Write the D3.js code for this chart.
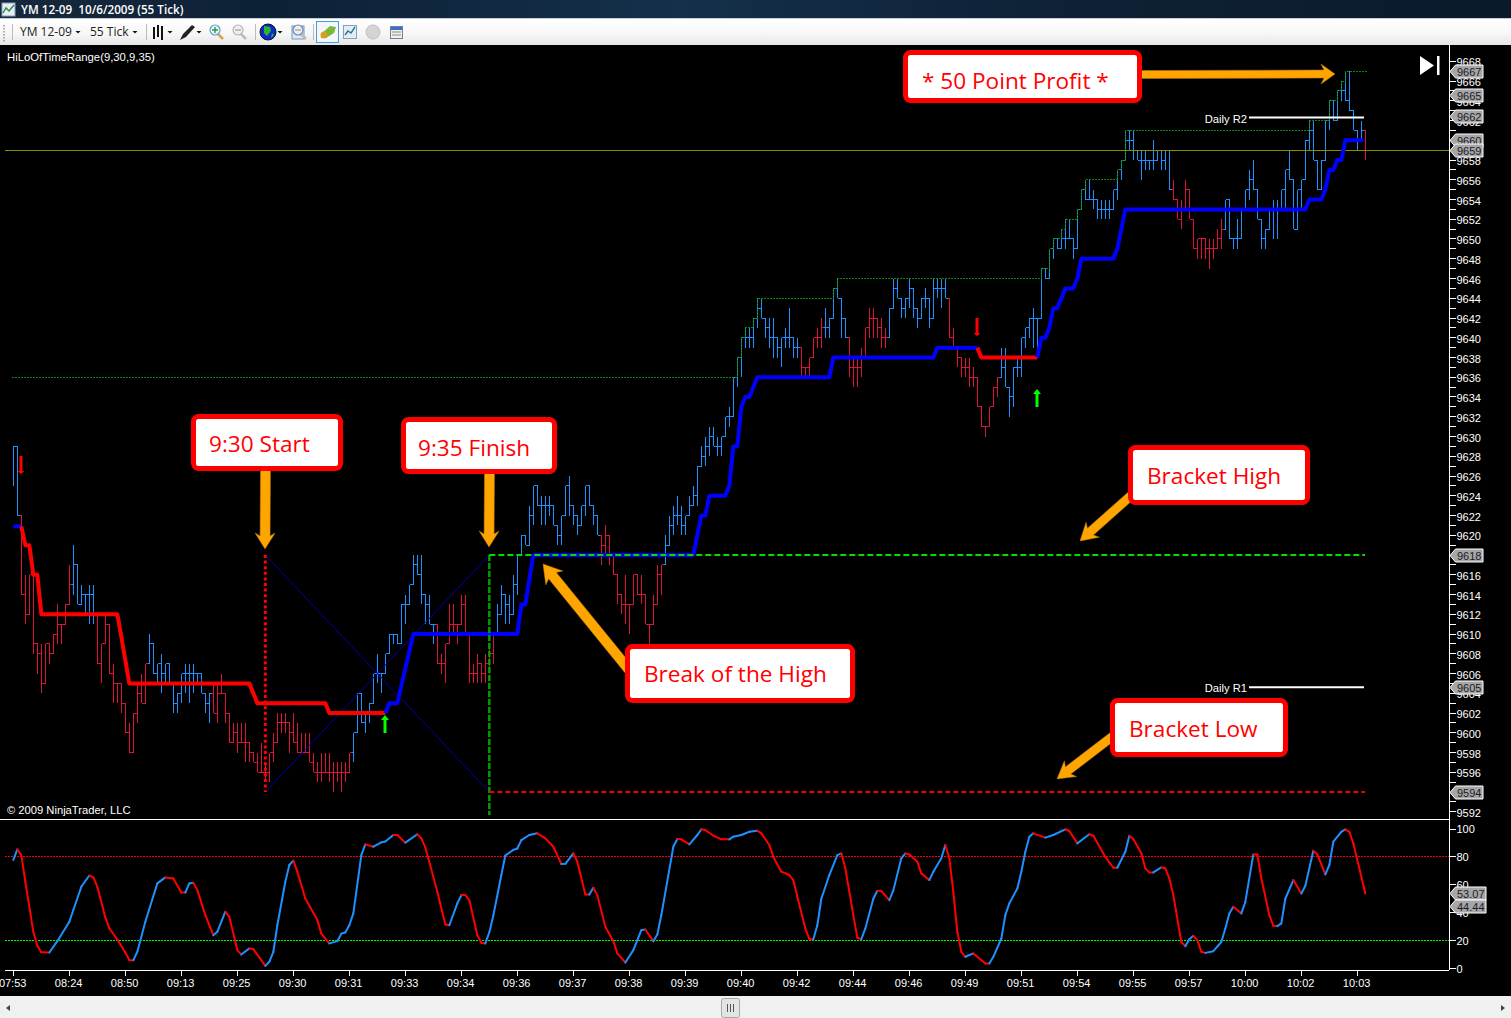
<!DOCTYPE html>
<html><head><meta charset="utf-8">
<script src="https://cdn.jsdelivr.net/npm/d3@7"></script>
<style>html,body{margin:0;padding:0;background:#000;overflow:hidden}svg{display:block}</style>
</head><body><div id="c"></div>
<script>
// ---------- DATA ----------
const barHigh=[
9629,9629,9622,9616,9616,9616,9609,9609,9609,9609,
9610,9613,9611,9613,9617,9619,9617,9615,9614,9615,
9615,9612,9609,9612,9611,9607,9605,9605,9603,9601,
9602,9605,9606,9607,9610,9609,9607,9608,9607,9607,
9605,9604,9606,9607,9607,9607,9606,9606,9604,9604,
9605,9605,9606,9604,9602,9601,9601,9601,9601,9599,
9598,9598,9599,9597,9598,9600,9602,9602,9602,9601,
9602,9601,9600,9600,9600,9598,9597,9598,9598,9598,
9597,9597,9597,9597,9598,9600,9604,9604,9602,9603,
9606,9608,9606,9608,9610,9610,9610,9613,9614,9615,
9618,9618,9618,9614,9614,9611,9611,9608,9609,9613,
9613,9611,9614,9614,9610,9607,9608,9607,9608,9609,
9610,9613,9615,9614,9614,9616,9618,9620,9620,9623,
9625,9625,9624,9624,9624,9623,9621,9622,9625,9626,
9623,9622,9623,9625,9625,9623,9622,9620,9621,9620,
9618,9616,9614,9616,9613,9616,9616,9616,9614,9611,
9614,9617,9617,9620,9622,9623,9624,9623,9622,9624,
9625,9627,9629,9630,9631,9631,9630,9630,9632,9633,
9636,9638,9640,9641,9641,9642,9644,9644,9642,9642,
9642,9640,9640,9641,9643,9640,9640,9639,9637,9638,
9640,9641,9642,9643,9642,9645,9646,9644,9642,9640,
9638,9638,9639,9641,9643,9643,9642,9642,9641,9643,
9646,9646,9644,9644,9646,9645,9643,9644,9645,9644,
9646,9646,9646,9646,9644,9641,9639,9638,9638,9638,
9637,9636,9633,9631,9633,9635,9636,9639,9639,9635,
9637,9638,9640,9641,9642,9643,9642,9647,9647,9649,
9650,9650,9651,9652,9652,9650,9653,9655,9656,9656,
9655,9654,9654,9654,9654,9655,9657,9658,9661,9661,
9661,9659,9659,9659,9658,9660,9659,9659,9659,9659,
9656,9654,9654,9656,9655,9652,9650,9650,9650,9650,
9650,9651,9652,9654,9654,9650,9652,9653,9655,9657,
9658,9655,9652,9651,9653,9654,9654,9655,9657,9659,
9656,9655,9656,9660,9662,9662,9658,9658,9662,9664,
9664,9665,9666,9667,9667,9663,9661,9662,9661];
const barLow=[
9625,9622,9614,9611,9612,9608,9606,9604,9605,9607,
9608,9609,9609,9611,9613,9614,9613,9613,9612,9611,
9611,9607,9605,9609,9606,9603,9603,9602,9600,9598,
9598,9601,9603,9603,9607,9606,9605,9604,9605,9605,
9602,9602,9603,9604,9603,9604,9605,9604,9602,9601,
9602,9601,9604,9601,9599,9599,9598,9599,9597,9597,
9597,9596,9596,9595,9595,9597,9599,9600,9600,9598,
9599,9598,9598,9598,9597,9596,9595,9595,9596,9595,
9594,9595,9594,9595,9596,9597,9600,9601,9600,9601,
9603,9605,9604,9606,9608,9609,9609,9609,9611,9613,
9615,9616,9613,9611,9611,9609,9607,9606,9605,9609,
9610,9609,9611,9610,9605,9605,9605,9605,9605,9606,
9607,9610,9612,9611,9611,9612,9614,9618,9619,9619,
9621,9623,9621,9621,9622,9621,9619,9619,9622,9622,
9621,9620,9621,9622,9623,9621,9620,9617,9618,9617,
9616,9613,9612,9611,9610,9613,9614,9613,9611,9609,
9611,9613,9614,9617,9619,9620,9621,9620,9620,9622,
9623,9623,9627,9627,9628,9629,9628,9628,9630,9631,
9632,9635,9636,9639,9639,9639,9641,9642,9640,9639,
9638,9638,9637,9639,9639,9638,9638,9636,9636,9636,
9638,9639,9639,9640,9640,9642,9644,9640,9640,9636,
9635,9635,9636,9638,9640,9640,9640,9639,9639,9640,
9643,9644,9642,9642,9643,9642,9641,9642,9643,9641,
9642,9644,9643,9644,9640,9639,9637,9636,9636,9635,
9635,9633,9631,9630,9631,9633,9634,9636,9635,9632,
9633,9636,9636,9639,9640,9639,9638,9642,9646,9646,
9648,9649,9649,9649,9650,9648,9649,9653,9654,9654,
9653,9652,9652,9652,9652,9653,9654,9656,9658,9659,
9658,9658,9656,9657,9657,9657,9658,9657,9657,9655,
9654,9652,9651,9653,9652,9649,9648,9648,9648,9647,
9648,9649,9649,9651,9650,9649,9649,9650,9653,9654,
9655,9652,9649,9649,9651,9650,9650,9653,9653,9656,
9651,9651,9653,9656,9659,9658,9655,9655,9658,9661,
9662,9662,9664,9664,9663,9661,9659,9660,9658];
const barClose=[
9629,9622,9614,9612,9616,9609,9608,9605,9609,9608,
9610,9611,9611,9613,9615,9617,9613,9614,9614,9614,
9612,9607,9609,9611,9606,9605,9605,9603,9600,9598,
9602,9604,9603,9607,9609,9606,9607,9606,9607,9605,
9603,9604,9606,9606,9606,9606,9606,9604,9603,9604,
9602,9604,9604,9602,9599,9600,9599,9599,9599,9598,
9597,9596,9596,9596,9598,9599,9601,9601,9601,9600,
9599,9598,9598,9598,9597,9596,9596,9596,9596,9596,
9596,9596,9596,9596,9598,9600,9604,9601,9602,9603,
9606,9606,9606,9608,9610,9610,9609,9613,9613,9615,
9617,9616,9614,9613,9611,9611,9607,9607,9609,9611,
9611,9611,9613,9610,9606,9606,9607,9606,9607,9608,
9610,9612,9614,9613,9612,9615,9618,9620,9619,9622,
9625,9623,9623,9623,9623,9621,9620,9622,9625,9623,
9622,9621,9623,9625,9623,9622,9620,9619,9620,9618,
9616,9614,9613,9613,9613,9616,9614,9614,9611,9611,
9613,9616,9617,9619,9621,9622,9622,9621,9622,9623,
9624,9627,9628,9629,9630,9629,9629,9630,9632,9632,
9636,9638,9640,9640,9640,9642,9643,9642,9641,9640,
9640,9639,9640,9640,9640,9639,9639,9637,9637,9638,
9640,9640,9641,9641,9642,9645,9644,9642,9640,9637,
9637,9637,9638,9641,9642,9642,9641,9640,9640,9643,
9645,9644,9643,9644,9645,9643,9642,9644,9644,9642,
9645,9645,9645,9644,9640,9639,9638,9637,9637,9636,
9636,9633,9631,9631,9633,9635,9636,9637,9635,9634,
9637,9637,9640,9641,9642,9642,9642,9647,9646,9649,
9650,9649,9650,9650,9650,9649,9653,9655,9654,9654,
9654,9653,9653,9653,9653,9655,9657,9658,9660,9660,
9659,9658,9658,9658,9658,9658,9659,9658,9659,9655,
9654,9652,9653,9655,9652,9649,9650,9650,9649,9649,
9649,9650,9651,9654,9650,9650,9650,9653,9655,9656,
9655,9652,9650,9651,9653,9653,9653,9655,9657,9656,
9651,9655,9656,9660,9661,9658,9655,9658,9662,9664,
9662,9665,9665,9664,9663,9661,9660,9661,9659];
const redBarRuns=[[2,14],[21,33],[50,84],[106,120],[147,162],[197,202],[209,218],[234,246],[290,302],[338,338]];
const trailStartLevel=9636;
const stopBlueA=[[0,9620.9],[2,9620.9]];
const stopRedA=[[2,9620.9],[3,9619],[4,9619],[5,9616],[6,9616],[7,9612],[26,9612],[27,9609.7],[29,9605],[59,9605],[61,9603],[78,9603],[79,9602],[93,9602]];
const stopBlueB=[[93,9602],[94,9603],[96,9603],[100,9610],[126,9610],[127,9613],[128,9613],[130,9618],[170,9618],[172,9622],[173,9622],[174,9624],[178,9624],[179,9625],[180,9629],[181,9629],[182,9633],[183,9634],[184,9634],[186,9636],[204,9636],[205,9638],[230,9638],[231,9639],[241,9639]];
const stopRedB=[[241,9639],[242,9638],[256,9638]];
const stopBlueC=[[256,9638],[257,9640],[258,9640],[259,9641],[260,9643],[261,9643],[263,9645],[265,9645],[266,9646],[267,9648],[275,9648],[276,9649],[278,9653],[323,9653],[324,9654],[327,9654],[328,9655],[329,9657],[330,9657],[331,9658],[332,9658],[333,9660],[337.5,9660]];
const bracketHigh=9618, bracketLow=9594, dailyR1=9604.6, dailyR2=9662.3, priorClose=9659;
const startBar=63, finishBar=119;
const priceTags=[9667,9665,9662,9660,9659,9618,9605,9594];
const signalDown=[2,241];
const signalUp=[93,256];
const stochIdx=[0,1,2,3,5,6,7,9,11,14,15,17,19,20,21,23,24,26,28,29,30,31,33,36,38,40,42,43,44,45,46,48,50,51,53,54,56,57,59,60,63,64,65,66,68,69,70,71,73,76,77,79,81,82,83,84,85,87,88,90,92,93,95,96,98,101,102,103,106,108,109,111,112,113,114,116,117,118,119,120,122,123,125,126,127,129,131,133,135,137,138,140,141,143,144,145,146,148,150,151,153,155,157,158,160,161,162,165,166,167,169,171,172,173,175,177,179,180,182,184,186,187,189,190,192,194,195,196,198,199,200,201,202,204,206,207,208,210,211,212,213,215,216,217,219,220,222,223,224,226,227,229,230,232,233,234,235,236,237,238,240,243,244,245,247,248,249,251,252,253,254,255,258,260,263,264,266,269,270,273,275,276,278,279,280,282,283,284,285,287,288,289,290,292,293,294,295,296,297,298,300,302,303,304,305,307,308,310,311,312,314,315,316,317,318,320,322,323,325,326,328,329,330,332,333,334,335,338];
const stochVal=[77.8,85.4,81.3,62.2,26.3,16.3,11.7,11.5,19.6,33.5,41.9,58.6,66.7,65.3,58.6,36.6,28.7,20.8,11.5,6,6,12,33.5,61,65.3,64.6,54.5,54.5,61,61.5,56.2,38.3,23.9,26.3,40.7,37,13.2,10,14.4,13.9,1.9,4.8,12,31,62.2,74.2,77.3,69.4,50.2,34.7,25,18,19.6,25,25.8,31,39.5,81.3,89,87.3,90.4,91,95.7,95.7,90.2,96.2,93.3,86.8,55,31.6,31,46.7,52.6,52.6,49,23.9,18.4,18,26,38,67,81,85,86,92,95.7,96.9,93.3,87.3,74.9,75,82.5,76.6,53,53,57.9,52.6,30,19.6,10.8,4.3,13.2,27.5,28,19.6,24.4,38.3,87.3,92.8,92.6,89,95.7,99.8,99.3,95.2,92.6,92.6,94.5,95.7,98,98.8,96.9,88.5,80,69.4,67,63.4,51.4,28.7,21,21,31,50,67,81.3,82.5,71.8,38.3,22,21,28.7,50,55.7,55.5,49,56,79,82.5,81.8,76.6,68.2,63.4,69.4,79,88.5,79,55,26.3,12,8.4,10.8,3.6,3.6,8.4,21.5,38.3,46.7,57.4,69.4,83.7,94.5,96.9,93.8,95.7,99.8,98.6,89.7,96.2,95.2,80,72.2,72.2,83.7,95.2,92.8,82.5,71.8,68.9,68.9,72.5,71.8,64.6,52.6,19,16,21,23.4,20.3,12,11.2,12.4,19,28.7,39.5,44.2,39.5,47.8,81.8,81.8,64.6,38.3,30.6,30.4,32.3,50,63.4,53.8,59.3,84.4,81.8,67.5,74.2,91,98,99.8,98,89.7,53.8];
const stochTags=[53.07,44.44];
const stochTicks=[100,80,60,40,20,0];
const timeLabels=["07:53","08:24","08:50","09:13","09:25","09:30","09:31","09:33","09:34","09:36","09:37","09:38","09:39","09:40","09:42","09:44","09:46","09:49","09:51","09:54","09:55","09:57","10:00","10:02","10:03"];
const calloutTexts=["* 50 Point Profit *","9:30 Start","9:35 Finish","Bracket High","Break of the High","Bracket Low"];

// ---------- LAYOUT ----------
const W=1511,H=1018;
const svg=d3.select("#c").append("svg").attr("width",W).attr("height",H).attr("viewBox",`0 0 ${W} ${H}`);
const AR="'Liberation Sans',Arial,sans-serif", UI="'Open Sans','Noto Sans',sans-serif";
const x=d3.scaleLinear().domain([0,338]).range([13.33,1365.33]);
const y=d3.scaleLinear().domain([bracketLow,bracketHigh]).range([792,555]);
const ys=d3.scaleLinear().domain([0,100]).range([968.5,829]);
const snap=v=>Math.floor(v)+0.5;
const defs=svg.append("defs");
const tg=defs.append("linearGradient").attr("id","tb").attr("x1",0).attr("x2",1).attr("y1",0).attr("y2",0);
[[0,"#16283c"],[.18,"#0d2136"],[.45,"#14304a"],[.7,"#0e2136"],[1,"#0b1a2b"]].forEach(s=>tg.append("stop").attr("offset",s[0]).attr("stop-color",s[1]));
const tb2=defs.append("linearGradient").attr("id","tool").attr("x1",0).attr("x2",0).attr("y1",0).attr("y2",1);
[[0,"#ffffff"],[.6,"#f6f6f6"],[1,"#e6e6e6"]].forEach(s=>tb2.append("stop").attr("offset",s[0]).attr("stop-color",s[1]));

svg.append("rect").attr("width",W).attr("height",H).attr("fill","#000");

// title bar + toolbar
svg.append("rect").attr("width",W).attr("height",18).attr("fill","url(#tb)");
svg.append("rect").attr("y",18).attr("width",W).attr("height",1).attr("fill","#c8ced6");
svg.append("rect").attr("y",19).attr("width",W).attr("height",26).attr("fill","url(#tool)");
const ico=svg.append("g");
ico.append("rect").attr("x",2).attr("y",3).attr("width",13).attr("height",13).attr("fill","#e8eef6").attr("stroke","#8aa0c0");
ico.append("path").attr("d","M3 13L6 8L9 11L14 5").attr("fill","none").attr("stroke","#2a8a3a").attr("stroke-width",1.4);
svg.append("text").attr("x",21).attr("y",14).attr("fill","#fff").attr("font-family",UI).attr("font-size",11.7).attr("font-weight",600).text("YM 12-09\u00a0\u00a010/6/2009 (55 Tick)");
const tt=(t,xx)=>svg.append("text").attr("x",xx).attr("y",36).attr("fill","#222").attr("font-family",UI).attr("font-size",12).text(t);
tt("YM 12-09",20);tt("55 Tick",90);
const drop=xx=>svg.append("path").attr("d",`M${xx-2.5} 31h5l-2.5 2.5z`).attr("fill","#111");
[78,135,170,199,280].forEach(drop);
[12,146,255,313].forEach(xx=>svg.append("rect").attr("x",xx).attr("y",24).attr("width",1).attr("height",16).attr("fill","#bbb"));
d3.range(6).forEach(i=>svg.append("rect").attr("x",3).attr("y",25+i*3).attr("width",2).attr("height",1.5).attr("fill","#aaa"));
// toolbar icons
const bi=svg.append("g").attr("stroke","#111").attr("stroke-width",2);
[[154,27,39],[158,25,37],[162,26,40]].forEach(d=>bi.append("line").attr("x1",d[0]).attr("x2",d[0]).attr("y1",d[1]).attr("y2",d[2]));
svg.append("path").attr("d","M180 40L183 34L192 25L195 27L186 37Z").attr("fill","#222");
const mag=(cx,col,plus)=>{const g=svg.append("g");g.append("line").attr("x1",cx+3).attr("y1",34).attr("x2",cx+8).attr("y2",39).attr("stroke",plus?"#d8a050":"#bbb").attr("stroke-width",2.5);
 g.append("circle").attr("cx",cx).attr("cy",30).attr("r",5).attr("fill",plus?"#e8f6ff":"#eee").attr("stroke",col).attr("stroke-width",1.2);
 g.append("path").attr("d",`M${cx-3} 30h6${plus?`M${cx} 27v6`:""}`).attr("stroke",plus?"#2a9a3a":"#aaa").attr("stroke-width",1.4);};
mag(215,"#6a9abf",true);mag(238,"#b8b8b8",false);
svg.append("circle").attr("cx",268).attr("cy",32).attr("r",8).attr("fill","#0a2ad0").attr("stroke","#111");
svg.append("path").attr("d","M264 26L270 27L271 31L267 36L264 33ZM272 33L274 35L271 38Z").attr("fill","#2ab82a");
svg.append("rect").attr("x",292).attr("y",26).attr("width",12).attr("height",13).attr("fill","#dce8f4").attr("stroke","#7a9ac0");
mag(298,"#6a8ab0",false);
svg.append("rect").attr("x",316.5).attr("y",21.5).attr("width",22).attr("height",21).attr("fill","#f2f7fc").attr("stroke","#4a9ae8");
svg.append("path").attr("d","M321 34L330 26L336 27L334 33L326 38L321 38Z").attr("fill","#7ab83a");
svg.append("circle").attr("cx",324).attr("cy",35).attr("r",3.5).attr("fill","#d8a020");
svg.append("rect").attr("x",343.5).attr("y",25.5).attr("width",13).attr("height",13).attr("fill","#e4ecf6").attr("stroke","#8a9ac0");
svg.append("path").attr("d","M345 35L348 31L351 33L355 27").attr("fill","none").attr("stroke","#2a7a8a").attr("stroke-width",1.4);
svg.append("circle").attr("cx",373).attr("cy",32).attr("r",7).attr("fill","#d4d4d4").attr("stroke","#c0c0c0");
svg.append("rect").attr("x",390.5).attr("y",26.5).attr("width",12).attr("height",12).attr("fill","#f4f0e0").attr("stroke","#6a80a8");
svg.append("rect").attr("x",391).attr("y",27).attr("width",11).attr("height",3).attr("fill","#3a70c0");
[32,35].forEach(yy=>svg.append("line").attr("x1",392).attr("x2",401).attr("y1",yy).attr("y2",yy).attr("stroke","#889"));

// OHLC bars
const isRed=i=>redBarRuns.some(r=>i>=r[0]&&i<=r[1]);
const bars=svg.append("g").attr("shape-rendering","crispEdges").attr("stroke-width",1);
const idx=d3.range(barHigh.length);
const barG=bars.selectAll("g").data(idx).join("g").attr("stroke",i=>isRed(i)?"#dc143c":"#1e90ff");
barG.append("line").attr("x1",i=>snap(x(i))).attr("x2",i=>snap(x(i))).attr("y1",i=>y(barHigh[i])).attr("y2",i=>y(barLow[i]));
barG.filter(i=>i>0).append("line").attr("x1",i=>snap(x(i))-2).attr("x2",i=>snap(x(i))).attr("y1",i=>snap(y(barClose[i-1]))).attr("y2",i=>snap(y(barClose[i-1])));
barG.append("line").attr("x1",i=>snap(x(i))).attr("x2",i=>snap(x(i))+2).attr("y1",i=>snap(y(barClose[i]))).attr("y2",i=>snap(y(barClose[i])));

// running-high trail, olive line, session diagonals
const levels=[];idx.reduce((m,i)=>{const v=Math.max(m,barHigh[i]);levels.push(v);return v;},trailStartLevel);
const trail=d3.line().x(d=>d[0]).y(d=>snap(y(d[1]))).curve(d3.curveStepAfter);
svg.append("path").attr("d",trail([[12,trailStartLevel],...idx.map(i=>[x(i),levels[i]]),[x(338)+3,levels[338]]]))
 .attr("fill","none").attr("stroke","#0a8a0a").attr("stroke-width",1).attr("stroke-dasharray","2,1").attr("shape-rendering","crispEdges");
svg.append("line").attr("x1",5).attr("x2",1449).attr("y1",snap(y(priorClose))).attr("y2",snap(y(priorClose))).attr("stroke","#8c8c00").attr("stroke-width",1);
const diag=[[startBar,bracketHigh,finishBar,bracketLow],[startBar,bracketLow,finishBar,bracketHigh]];
diag.forEach(d=>svg.append("line").attr("x1",x(d[0])).attr("y1",y(d[1])).attr("x2",x(d[2])).attr("y2",y(d[3])).attr("stroke","#0000b0").attr("stroke-width",1));

// stop line
const stopLine=d3.line().x(d=>x(d[0])).y(d=>y(d[1]));
[[stopBlueA,"#0000ff"],[stopRedA,"#ff0000"],[stopBlueB,"#0000ff"],[stopRedB,"#ff0000"],[stopBlueC,"#0000ff"]].forEach(s=>
 svg.append("path").attr("d",stopLine(s[0])).attr("fill","none").attr("stroke",s[1]).attr("stroke-width",4).attr("stroke-linejoin","round"));

// brackets
svg.append("line").attr("x1",x(startBar)).attr("x2",x(startBar)).attr("y1",y(bracketHigh)).attr("y2",y(bracketLow)).attr("stroke","#ff0000").attr("stroke-width",3).attr("stroke-dasharray","3,2.6");
svg.append("line").attr("x1",x(finishBar)).attr("x2",x(finishBar)).attr("y1",y(bracketHigh)).attr("y2",815).attr("stroke","#00a000").attr("stroke-width",2.5).attr("stroke-dasharray","6,2");
svg.append("line").attr("x1",x(finishBar)).attr("x2",1365).attr("y1",y(bracketHigh)).attr("y2",y(bracketHigh)).attr("stroke","#00e000").attr("stroke-width",2).attr("stroke-dasharray","6,3");
svg.append("line").attr("x1",x(finishBar)).attr("x2",1365).attr("y1",y(bracketLow)).attr("y2",y(bracketLow)).attr("stroke","#ee0000").attr("stroke-width",2).attr("stroke-dasharray","5,3");

// daily pivots
[[dailyR2,"Daily R2"],[dailyR1,"Daily R1"]].forEach(d=>{
 svg.append("line").attr("x1",1249).attr("x2",1364).attr("y1",y(d[0])).attr("y2",y(d[0])).attr("stroke","#fff").attr("stroke-width",2);
 svg.append("text").attr("x",1247).attr("y",y(d[0])+5).attr("text-anchor","end").attr("fill","#fff").attr("font-family",AR).attr("font-size",11.2).text(d[1]);
});

// signal arrows
const sig=(bx,yTop,len,col,down)=>{const g=svg.append("g").attr("fill",col);const cx=Math.round(x(bx));
 const hw=down?3.5:4, hl=down?3:5;
 if(down) g.append("path").attr("d",`M${cx-1.5} ${yTop}h3v${len-hl}h${hw-1.5}l-${hw} ${hl}l-${hw} -${hl}h${hw-1.5}z`);
 else g.append("path").attr("d",`M${cx-1.5} ${yTop+len}h3v-${len-hl}h${hw-1.5}l-${hw} -${hl}l-${hw} ${hl}h${hw-1.5}z`);};
sig(signalDown[0],456,18,"#ff0000",true);
sig(signalDown[1],318,18,"#ff0000",true);
sig(signalUp[0],715,18,"#00ff00",false);
sig(signalUp[1],389,18,"#00ff00",false);

// end-of-chart glyph
svg.append("path").attr("d","M1420 56L1434 65.5L1420 75Z").attr("fill","#fff");
svg.append("rect").attr("x",1437).attr("y",56).attr("width",2.5).attr("height",19).attr("fill","#fff");

// orange arrows
const arrow=(x0,y0,x1,y1,w,hl,hw)=>{const a=Math.atan2(y1-y0,x1-x0),c=Math.cos(a),s=Math.sin(a);
 const p=(l,o)=>[x1-c*l-s*o,y1-s*l+c*o];
 const L=Math.hypot(x1-x0,y1-y0);
 const pts=[p(L,w/2),p(hl-3,w/2),p(hl,hw),[x1,y1],p(hl,-hw),p(hl-3,-w/2),p(L,-w/2)];
 svg.append("path").attr("d",d3.line()(pts)+"Z").attr("fill","#ffa500").attr("stroke","#b87a10").attr("stroke-width",.5);};
arrow(1140,74.5,1335,74,8,14,10);
arrow(265.5,468,265,549,10,16,10);
arrow(489.5,470,489,547,10,16,10);
arrow(1135,492,1080,541,9,17,10);
arrow(630,671,543,564,10,18,11);
arrow(1117,733,1057,779,9,17,10);

// callouts
const boxes=[[905.5,52.5,234,48,922,calloutTexts[0],4],[193.5,416.5,147,52,209,calloutTexts[1],1],[403.5,419.5,151,52,418,calloutTexts[2],2],[1130.5,447.5,177,55,1147,calloutTexts[3],1],[627.5,646.5,225,54,644,calloutTexts[4],0],[1112.5,700.5,173,54,1129,calloutTexts[5],1]];
boxes.forEach(b=>{
 svg.append("rect").attr("x",b[0]).attr("y",b[1]).attr("width",b[2]).attr("height",b[3]).attr("rx",5).attr("fill","#fff").attr("stroke","#ff0000").attr("stroke-width",5);
 svg.append("text").attr("x",b[4]).attr("y",b[1]+b[3]/2+8+b[6]).attr("fill","#ff0000").attr("font-family",UI).attr("font-size",22.6).text(b[5]);
});

// left labels
svg.append("text").attr("x",7).attr("y",61).attr("fill","#fff").attr("font-family",AR).attr("font-size",11.3).text("HiLoOfTimeRange(9,30,9,35)");
svg.append("text").attr("x",7).attr("y",814).attr("fill","#fff").attr("font-family",AR).attr("font-size",11.2).text("\u00a9 2009 NinjaTrader, LLC");

// price axis
const axisG=svg.append("g").attr("font-family",AR).attr("font-size",11).attr("fill","#fff");
axisG.append("line").attr("x1",1449.5).attr("x2",1449.5).attr("y1",45).attr("y2",970).attr("stroke","#fff");
const pticks=d3.range(9592,9669);
axisG.selectAll("line.t").data(pticks).join("line").attr("class","t").attr("x1",1449).attr("x2",1456).attr("y1",d=>snap(y(d))).attr("y2",d=>snap(y(d))).attr("stroke","#fff");
axisG.selectAll("text.p").data(pticks.filter(d=>d%2==0)).join("text").attr("class","p").attr("x",1456.5).attr("y",d=>y(d)+5).text(d=>d);

// price tags
const tagOffset={9665:4,9662:-4,9605:4};
const tag=(v,py,right)=>{const g=svg.append("g");
 g.append("path").attr("d",`M1450 ${py}L1455.5 ${py-6.5}H${right}V${py+6.5}H1455.5Z`).attr("fill","#a6a6a6").attr("stroke","#fff");
 g.append("text").attr("x",1457).attr("y",py+4).attr("fill","#1a1a2a").attr("font-family",AR).attr("font-size",11).text(v);};
priceTags.forEach(v=>tag(v,Math.round(y(v))+(tagOffset[v]||0)+.5,1483));

// panel divider
svg.append("rect").attr("x",0).attr("y",819).attr("width",1449).attr("height",1).attr("fill","#fff");

// stochastic panel
svg.append("line").attr("x1",5).attr("x2",1449).attr("y1",snap(ys(80))).attr("y2",snap(ys(80))).attr("stroke","#ff0000").attr("stroke-dasharray","2,1");
svg.append("line").attr("x1",5).attr("x2",1449).attr("y1",snap(ys(20))).attr("y2",snap(ys(20))).attr("stroke","#00ff00").attr("stroke-dasharray","2,1");
const sl=d3.line();
const stG=svg.append("g").attr("fill","none").attr("stroke-width",2).attr("stroke-linecap","round");
stochIdx.slice(1).forEach((k,j)=>{const v0=stochVal[j],v1=stochVal[j+1];
 stG.append("path").attr("d",sl([[x(stochIdx[j]),ys(v0)],[x(k),ys(v1)]])).attr("stroke",v1>v0?"#1e90ff":"#ff0000");});
axisG.selectAll("line.s").data(stochTicks).join("line").attr("class","s").attr("x1",1449).attr("x2",1456).attr("y1",d=>snap(ys(d))).attr("y2",d=>snap(ys(d))).attr("stroke","#fff");
axisG.selectAll("text.s").data(stochTicks).join("text").attr("class","s").attr("x",1456.5).attr("y",d=>ys(d)+4).text(d=>d);
stochTags.forEach(v=>tag(v.toFixed(2),Math.round(ys(v))-.5,1486));

// time axis
axisG.append("line").attr("x1",5).attr("x2",1449).attr("y1",970.5).attr("y2",970.5).attr("stroke","#fff");
const xt=d3.scalePoint().domain(timeLabels).range([x(0),x(336)]);
axisG.selectAll("line.x").data(timeLabels).join("line").attr("class","x").attr("x1",d=>snap(xt(d))).attr("x2",d=>snap(xt(d))).attr("y1",970).attr("y2",976).attr("stroke","#fff");
axisG.selectAll("text.x").data(timeLabels).join("text").attr("class","x").attr("x",d=>xt(d)-0.7).attr("y",987).attr("text-anchor","middle").text(d=>d);

// scrollbar
svg.append("rect").attr("y",996).attr("width",W).attr("height",22).attr("fill","#f0f0f0");
svg.append("path").attr("d","M10 1005L6 1008L10 1011Z").attr("fill","#444");
svg.append("path").attr("d","M1501 1005L1505 1008L1501 1011Z").attr("fill","#444");
svg.append("rect").attr("x",721.5).attr("y",998.5).attr("width",18).attr("height",19).attr("rx",2).attr("fill","#e4e4e4").attr("stroke","#a8a8a8");
[727,730,733].forEach(xx=>svg.append("line").attr("x1",xx+.5).attr("x2",xx+.5).attr("y1",1004).attr("y2",1012).attr("stroke","#555"));
</script></body></html>
